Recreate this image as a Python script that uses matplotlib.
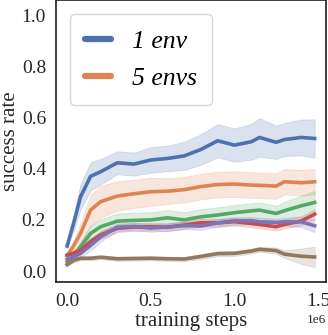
import numpy as np
import matplotlib
matplotlib.use('Agg')
import matplotlib.pyplot as plt

plt.rcParams['font.family'] = ['Liberation Serif', 'DejaVu Serif']
plt.rcParams['mathtext.fontset'] = 'dejavuserif'

# ---------------------------------------------------------------------------
# values (training steps in units of 1e6)
steps = [0.0, 0.04, 0.08, 0.14, 0.2, 0.3, 0.4, 0.5, 0.6, 0.7, 0.8, 0.9,
         1.0, 1.1, 1.15, 1.25, 1.3, 1.4, 1.48]

env1_mean = [0.098, 0.19, 0.29, 0.37, 0.388, 0.423, 0.418, 0.434, 0.44, 0.45,
             0.475, 0.509, 0.492, 0.505, 0.522, 0.503, 0.514, 0.522, 0.518]
env1_hw = [0.01, 0.03, 0.05, 0.055, 0.05, 0.045, 0.045, 0.05, 0.05, 0.055,
           0.06, 0.065, 0.065, 0.07, 0.075, 0.065, 0.065, 0.07, 0.075]

env5_mean = [0.06, 0.10, 0.147, 0.238, 0.271, 0.293, 0.302, 0.31, 0.312, 0.318,
             0.33, 0.338, 0.34, 0.336, 0.335, 0.332, 0.349, 0.345, 0.349]
env5_hw = [0.01, 0.02, 0.04, 0.06, 0.062, 0.058, 0.055, 0.055, 0.05, 0.05,
           0.05, 0.05, 0.05, 0.05, 0.05, 0.05, 0.05, 0.05, 0.05]

green_mean = [0.035, 0.06, 0.095, 0.147, 0.173, 0.195, 0.198, 0.20, 0.208, 0.20,
              0.212, 0.219, 0.228, 0.235, 0.238, 0.225, 0.236, 0.255, 0.268]
green_hw = [0.008, 0.015, 0.02, 0.03, 0.03, 0.03, 0.03, 0.03, 0.03, 0.03,
            0.03, 0.03, 0.03, 0.03, 0.03, 0.03, 0.035, 0.04, 0.045]

red_mean = [0.062, 0.07, 0.082, 0.115, 0.141, 0.167, 0.172, 0.173, 0.171, 0.18,
            0.189, 0.188, 0.193, 0.186, 0.182, 0.173, 0.182, 0.196, 0.222]
red_hw = [0.01, 0.01, 0.012, 0.015, 0.015, 0.015, 0.015, 0.015, 0.015, 0.015,
          0.015, 0.015, 0.015, 0.015, 0.015, 0.015, 0.015, 0.018, 0.02]

purple_mean = [0.045, 0.055, 0.069, 0.10, 0.134, 0.171, 0.174, 0.168, 0.172, 0.178,
               0.176, 0.188, 0.196, 0.197, 0.193, 0.19, 0.193, 0.192, 0.177]
purple_hw = [0.01, 0.012, 0.015, 0.02, 0.02, 0.015, 0.015, 0.015, 0.015, 0.015,
             0.015, 0.015, 0.015, 0.015, 0.015, 0.015, 0.015, 0.02, 0.025]

brown_mean = [0.025, 0.042, 0.05, 0.05, 0.054, 0.048, 0.049, 0.05, 0.048, 0.047,
              0.057, 0.068, 0.069, 0.078, 0.085, 0.08, 0.066, 0.058, 0.055]
brown_hw = [0.006, 0.008, 0.008, 0.008, 0.008, 0.008, 0.008, 0.008, 0.008, 0.008,
            0.01, 0.01, 0.01, 0.01, 0.01, 0.012, 0.015, 0.03, 0.04]

series = [
    (env1_mean, env1_hw, '#4C72B0', '1 env'),
    (env5_mean, env5_hw, '#DD8452', '5 envs'),
    (green_mean, green_hw, '#55A868', None),
    (red_mean, red_hw, '#C44E52', None),
    (purple_mean, purple_hw, '#8172B3', None),
    (brown_mean, brown_hw, '#937860', None),
]
# ---------------------------------------------------------------------------

x = np.array(steps) * 1e6

fig = plt.figure(figsize=(3.28, 3.35), dpi=100)
ax = fig.add_axes([0.170, 0.158, 0.823, 0.842])

for mean, hw, color, label in series:
    mean, hw = np.array(mean), np.array(hw)
    ax.fill_between(x, mean - hw, mean + hw, color=color, alpha=0.2, lw=0.6)
for mean, hw, color, label in series:
    ax.plot(x, mean, color=color, lw=2.6, label=label)

ax.set_xlim(-0.068e6, 1.546e6)
ax.set_ylim(-0.043, 1.059)
ax.set_xticks([0, 0.5e6, 1.0e6, 1.5e6])
ax.set_yticks([0.0, 0.2, 0.4, 0.6, 0.8, 1.0])
ax.tick_params(length=0, labelsize=14, colors='.15')
ax.tick_params(axis='y', pad=7)
ax.tick_params(axis='x', pad=8)
ax.xaxis.get_offset_text().set_fontsize(9.5)

for s in ax.spines.values():
    s.set_color('.15')
    s.set_linewidth(1.25)

ax.set_xlabel('training steps', fontsize=15, color='.15', labelpad=1)
ax.set_ylabel('success rate', fontsize=15, color='.15', labelpad=1)

leg = ax.legend(loc='upper left', prop={'style': 'italic', 'size': 18.5},
                handlelength=1.0, frameon=True, borderpad=0.6,
                labelspacing=0.55, handletextpad=0.8,
                bbox_to_anchor=(0.005, 0.995))
leg.get_frame().set_edgecolor('.8')
for line in leg.get_lines():
    line.set_linewidth(4.5)
    line.set_solid_capstyle('round')

fig.savefig('out.png', dpi=100)
